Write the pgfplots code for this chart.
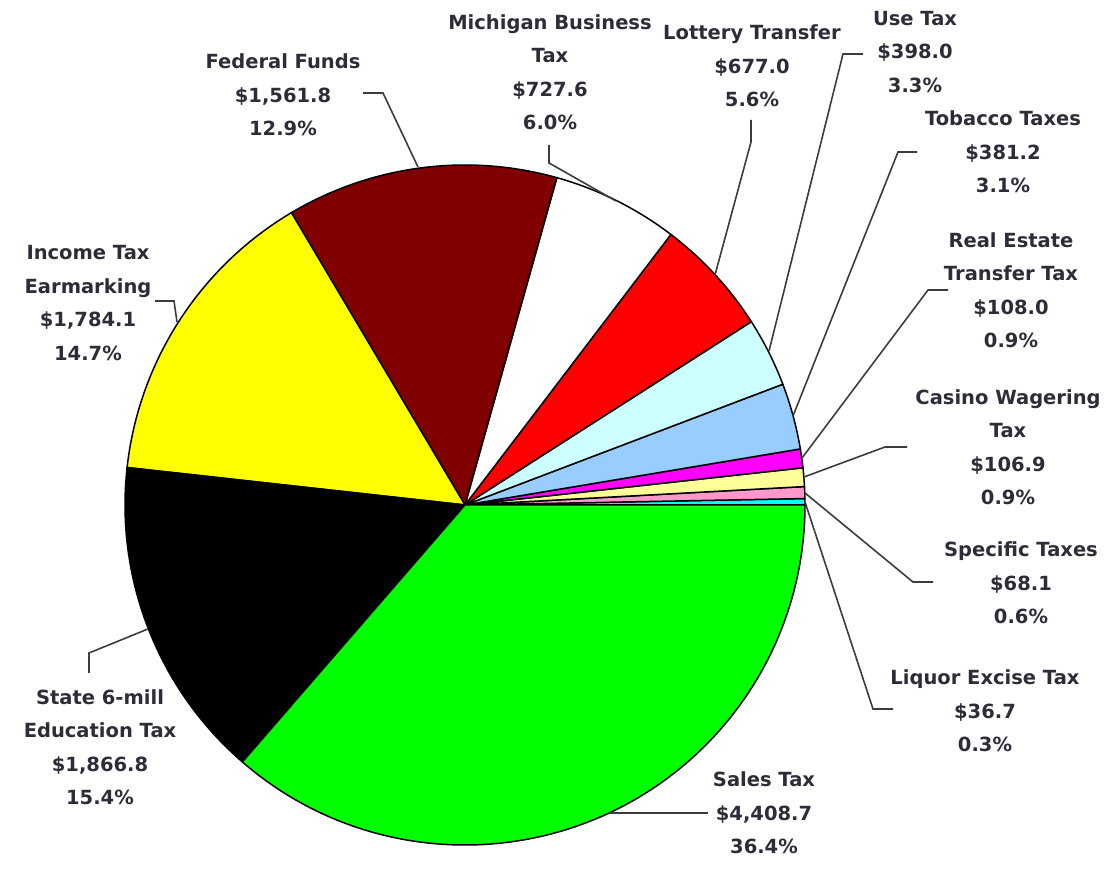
\documentclass[border=0pt]{standalone}
\usepackage{pgfplots}
\pgfplotsset{compat=1.18}
\usepackage{fontspec}
\setmainfont{DejaVu Sans}
% values ($ millions), counterclockwise from 0 degrees
\def\vLiq{36.7}
\def\vSpec{68.1}
\def\vCas{106.9}
\def\vReal{108.0}
\def\vTob{381.2}
\def\vUse{398.0}
\def\vLot{677.0}
\def\vMBT{727.6}
\def\vFed{1561.8}
\def\vInc{1784.1}
\def\vState{1866.8}
\def\vSales{4408.7}
\pgfmathsetmacro\tot{\vLiq+\vSpec+\vCas+\vReal+\vTob+\vUse+\vLot+\vMBT+\vFed+\vInc+\vState+\vSales}
\pgfmathsetmacro\aA{0}
\pgfmathsetmacro\aB{\aA+(\vLiq/\tot)*360}
\pgfmathsetmacro\aC{\aB+(\vSpec/\tot)*360}
\pgfmathsetmacro\aD{\aC+(\vCas/\tot)*360}
\pgfmathsetmacro\aE{\aD+(\vReal/\tot)*360}
\pgfmathsetmacro\aF{\aE+(\vTob/\tot)*360}
\pgfmathsetmacro\aG{\aF+(\vUse/\tot)*360}
\pgfmathsetmacro\aH{\aG+(\vLot/\tot)*360}
\pgfmathsetmacro\aI{\aH+(\vMBT/\tot)*360}
\pgfmathsetmacro\aJ{\aI+(\vFed/\tot)*360}
\pgfmathsetmacro\aK{\aJ+(\vInc/\tot)*360}
\pgfmathsetmacro\aL{\aK+(\vState/\tot)*360}
\pgfmathsetmacro\aM{360}
\definecolor{cLiq}{RGB}{0,255,255}
\definecolor{cSpec}{RGB}{255,153,204}
\definecolor{cCas}{RGB}{255,255,153}
\definecolor{cReal}{RGB}{255,0,255}
\definecolor{cTob}{RGB}{153,204,255}
\definecolor{cUse}{RGB}{204,255,255}
\definecolor{cLot}{RGB}{255,0,0}
\definecolor{cMBT}{RGB}{255,255,255}
\definecolor{cFed}{RGB}{128,0,0}
\definecolor{cInc}{RGB}{255,255,0}
\definecolor{cState}{RGB}{0,0,0}
\definecolor{cSales}{RGB}{0,255,0}
\definecolor{txt}{RGB}{45,45,58}
\definecolor{lead}{RGB}{60,60,60}
\tikzset{lbl/.style={font=\bfseries\fontsize{19.5}{33.5}\selectfont,text=txt,align=center,inner sep=0pt}}
\newcommand\slice[3]{\filldraw[fill=#3,draw=black,line width=1.5pt,line join=round] (axis cs:465,354) -- ++(#1:340pt) arc[start angle=#1,end angle=#2,radius=340pt] -- cycle;}
\begin{document}
\begin{tikzpicture}
\begin{axis}[x=1pt,y=1pt,xmin=0,xmax=1106,ymin=0,ymax=859,
  hide axis,scale only axis,clip=false]
\path (axis cs:0,0) rectangle (axis cs:1106,859);
\slice{\aA}{\aB}{cLiq}
\slice{\aB}{\aC}{cSpec}
\slice{\aC}{\aD}{cCas}
\slice{\aD}{\aE}{cReal}
\slice{\aE}{\aF}{cTob}
\slice{\aF}{\aG}{cUse}
\slice{\aG}{\aH}{cLot}
\slice{\aH}{\aI}{cMBT}
\slice{\aI}{\aJ}{cFed}
\slice{\aJ}{\aK}{cInc}
\slice{\aK}{\aL}{cState}
\slice{\aL}{\aM}{cSales}
% leaders
\begin{scope}[draw=lead,line width=1.6pt]
\draw (axis cs:363,766) -- (axis cs:383,766) -- (axis cs:418,692);
\draw (axis cs:549,714) -- (axis cs:549,696) -- (axis cs:616,658);
\draw (axis cs:751,739) -- (axis cs:751,717) -- (axis cs:715,584);
\draw (axis cs:863,805) -- (axis cs:843,805) -- (axis cs:769,508);
\draw (axis cs:917,707) -- (axis cs:898,707) -- (axis cs:793,443);
\draw (axis cs:948,569) -- (axis cs:928,569) -- (axis cs:802,401);
\draw (axis cs:907,412) -- (axis cs:885,412) -- (axis cs:804,382);
\draw (axis cs:933,277) -- (axis cs:913,277) -- (axis cs:805,366);
\draw (axis cs:893,150) -- (axis cs:873,150) -- (axis cs:805,357);
\draw (axis cs:708,46) -- (axis cs:609,46);
\draw (axis cs:89,186) -- (axis cs:89,206) -- (axis cs:148,230);
\draw (axis cs:155,558) -- (axis cs:174,558) -- (axis cs:177,537);
\end{scope}
% labels
\node[lbl] at (axis cs:283,764) {Federal Funds\\\$1,561.8\\12.9\%};
\node[lbl] at (axis cs:550,787) {Michigan Business\\Tax\\\$727.6\\6.0\%};
\node[lbl] at (axis cs:752,793) {Lottery Transfer\\\$677.0\\5.6\%};
\node[lbl] at (axis cs:915,807) {Use Tax\\\$398.0\\3.3\%};
\node[lbl] at (axis cs:1003,707) {Tobacco Taxes\\\$381.2\\3.1\%};
\node[lbl] at (axis cs:1011,569) {Real Estate\\Transfer Tax\\\$108.0\\0.9\%};
\node[lbl] at (axis cs:1008,412) {Casino Wagering\\Tax\\\$106.9\\0.9\%};
\node[lbl] at (axis cs:1021,276) {Specific Taxes\\\$68.1\\0.6\%};
\node[lbl] at (axis cs:985,148) {Liquor Excise Tax\\\$36.7\\0.3\%};
\node[lbl] at (axis cs:764,46) {Sales Tax\\\$4,408.7\\36.4\%};
\node[lbl] at (axis cs:100,112) {State 6-mill\\Education Tax\\\$1,866.8\\15.4\%};
\node[lbl] at (axis cs:88,556) {Income Tax\\Earmarking\\\$1,784.1\\14.7\%};
\end{axis}
\end{tikzpicture}
\end{document}
